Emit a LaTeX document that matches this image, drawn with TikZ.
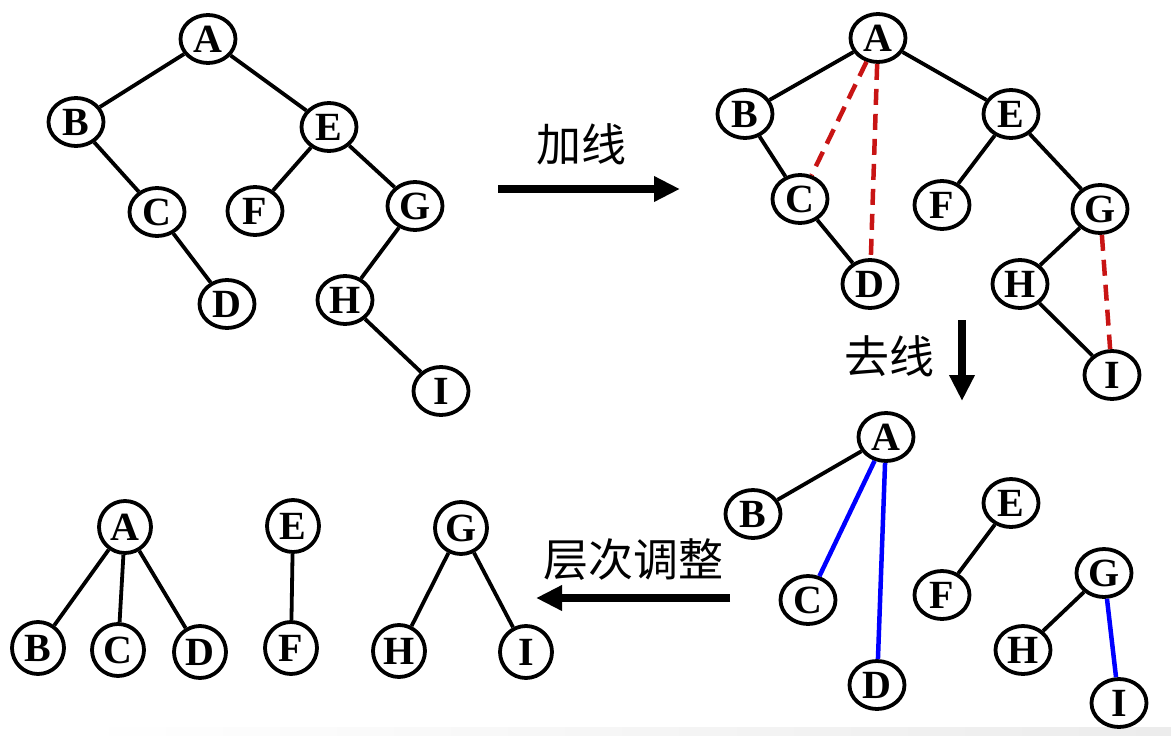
\documentclass[tikz,border=0pt]{standalone}
\usepackage{fontspec}
\setmainfont{Liberation Serif}
\newfontfamily\cjk{Noto Sans CJK SC}
\usetikzlibrary{shapes.geometric,arrows.meta}
\definecolor{addred}{RGB}{200,20,20}

\tikzset{
  vtx/.style={ellipse,draw,line width=3.8pt,minimum width=55pt,minimum height=48pt,inner sep=0pt,fill=white,
    font=\fontsize{40}{40}\selectfont\bfseries},
  edge/.style={line width=3.8pt},
  added/.style={line width=4.5pt,draw=addred,dash pattern=on 16pt off 9pt},
  kept/.style={line width=4.5pt,draw=blue},
  bigarrow/.style={line width=7.5pt,-{Triangle[length=26pt,width=24pt]}},
  note/.style={font=\cjk\fontsize{45}{45}\selectfont}
}

\begin{document}
\begin{tikzpicture}[x=1pt,y=-1pt]
\useasboundingbox (0,0) rectangle (1171,736);
\shade[left color=white,right color=gray!15] (80,727) rectangle (1171,736);

% binary tree
\foreach \n/\x/\y in {A/208/39,B/76/122,E/329/127,C/157/212,F/255/211,G/415/206,D/227/304,H/345/300,I/441/391}
  {\node[vtx] (\n1) at (\x,\y) {\n};}
\foreach \u/\v in {A/B,A/E,B/C,C/D,E/F,E/G,G/H,H/I}
  {\draw[edge] (\u1)--(\v1);}

% lines added
\foreach \n/\x/\y in {A/878/38,B/745/114,E/1011/114,C/800/199,F/942/205,G/1100/209,D/870/284,H/1020/284,I/1112/375}
  {\node[vtx] (\n2) at (\x,\y) {\n};}
\foreach \u/\v in {A/B,A/E,B/C,C/D,E/F,E/G,G/H,H/I}
  {\draw[edge] (\u2)--(\v2);}
\draw[added] (A2)--(C2);
\draw[added] (A2)--(D2);
\draw[added] (G2)--(I2);

% lines removed
\foreach \n/\x/\y in {A/886/437,B/753/514,E/1011/503,C/808/600,F/942/595,G/1104/573,H/1023/650,D/877/685,I/1119/703}
  {\node[vtx] (\n3) at (\x,\y) {\n};}
\draw[edge] (A3)--(B3);
\draw[edge] (E3)--(F3);
\draw[edge] (G3)--(H3);
\draw[kept] (A3)--(C3);
\draw[kept] (A3)--(D3);
\draw[kept] (G3)--(I3);

% forest
\foreach \n/\x/\y in {A/125/527,E/293/526,G/461/528,B/38/648,C/118/650,D/200/652,F/291/648,H/399/651,I/526/652}
  {\node[vtx,minimum width=52pt,minimum height=52pt] (\n4) at (\x,\y) {\n};}
\foreach \u/\v in {A/B,A/C,A/D,E/F,G/H,G/I}
  {\draw[edge] (\u4)--(\v4);}

% steps
\coordinate (s1) at (498,189); \coordinate (t1) at (680,189);
\draw[bigarrow] (s1)--(t1);
\node[note] (add) at (581,144) {加线};
\coordinate (s2) at (962,320); \coordinate (t2) at (962,401);
\draw[bigarrow] (s2)--(t2);
\node[note] (cut) at (889,356) {去线};
\coordinate (s3) at (730,598); \coordinate (t3) at (536,598);
\draw[bigarrow] (s3)--(t3);
\node[note] (lvl) at (633,560) {层次调整};
\end{tikzpicture}
\end{document}
